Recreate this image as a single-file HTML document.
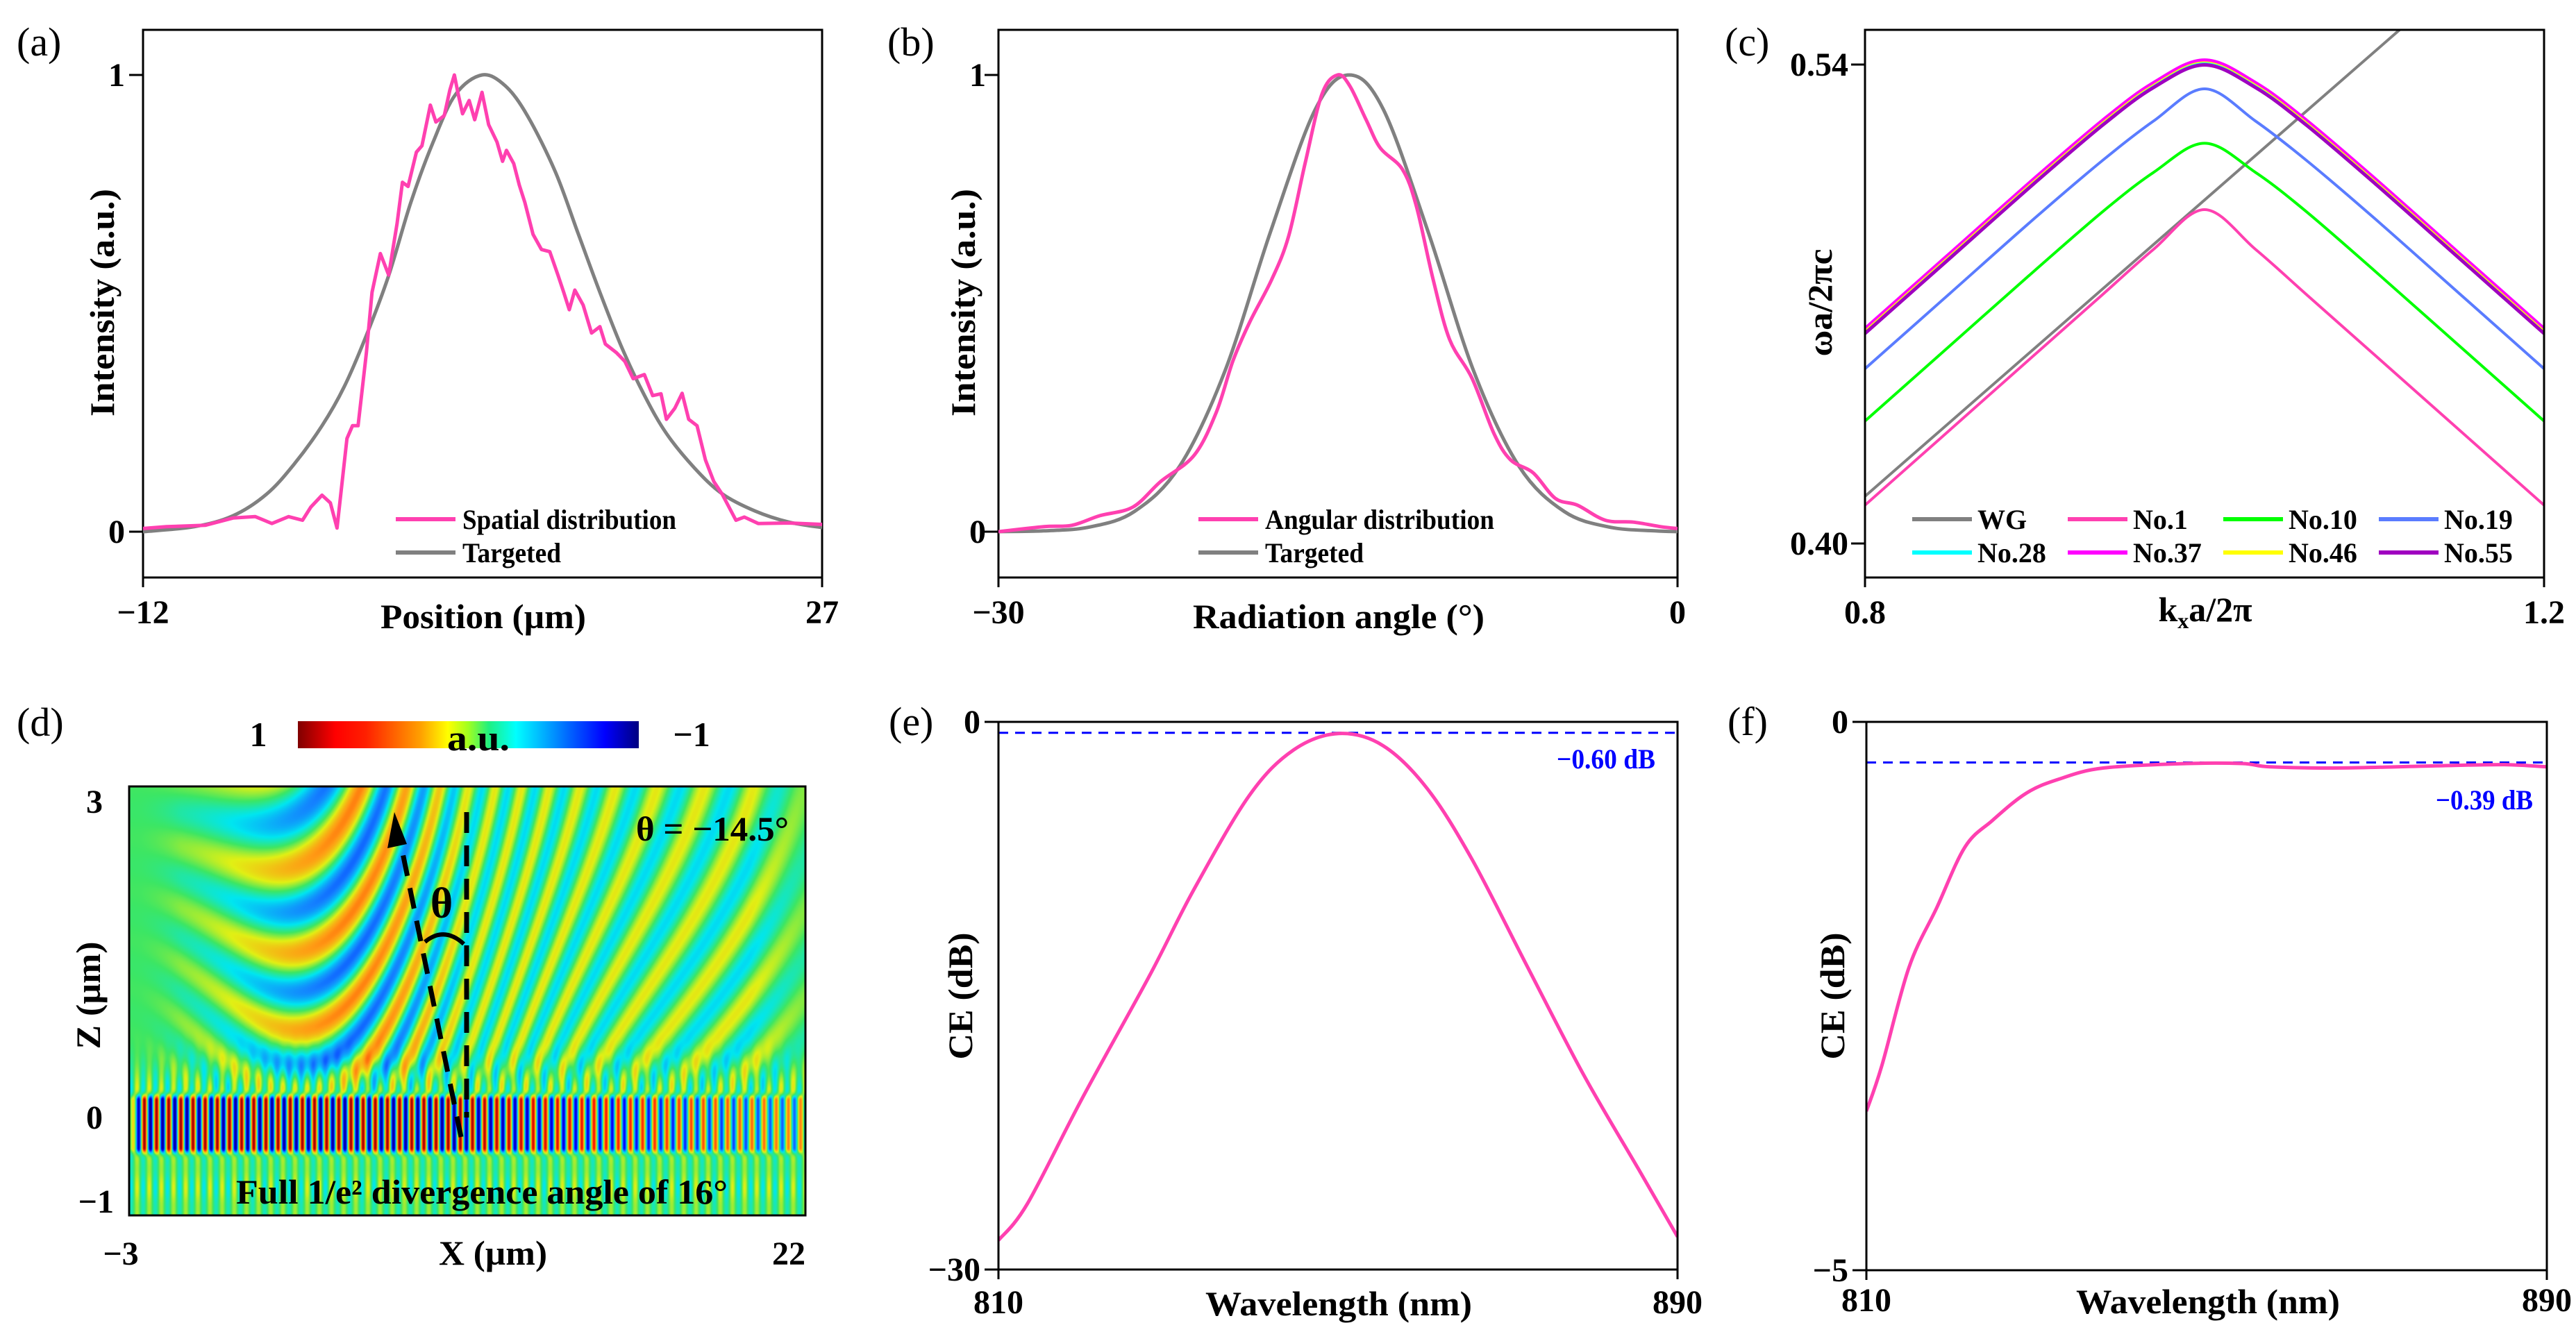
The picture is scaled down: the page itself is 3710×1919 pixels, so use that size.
<!DOCTYPE html>
<html><head><meta charset="utf-8"><style>
html,body{margin:0;padding:0;background:#fff;}
#wrap{position:relative;width:3710px;height:1919px;overflow:hidden;background:#fff;}
#field{position:absolute;left:186px;top:1133px;}
#svg{position:absolute;left:0;top:0;}
text{font-family:"Liberation Serif",serif;}
.b{font-weight:bold;}
</style></head><body>
<div id="wrap">
<canvas id="field" width="974" height="618"></canvas>
<svg id="svg" width="3710" height="1919" xmlns="http://www.w3.org/2000/svg">
<defs>
<linearGradient id="jet" x1="0" x2="1" y1="0" y2="0">
<stop offset="0" stop-color="#800000"/><stop offset="0.11" stop-color="#ff0000"/><stop offset="0.2" stop-color="#ff2000"/>
<stop offset="0.36" stop-color="#ffa000"/><stop offset="0.44" stop-color="#ffff00"/><stop offset="0.5" stop-color="#a0ff20"/>
<stop offset="0.56" stop-color="#20f080"/><stop offset="0.64" stop-color="#00ffff"/><stop offset="0.8" stop-color="#0060ff"/>
<stop offset="0.9" stop-color="#0000ff"/><stop offset="1" stop-color="#000080"/></linearGradient>
<clipPath id="clipa"><rect x="206" y="43" width="978" height="789"/></clipPath>
<clipPath id="clipb"><rect x="1438" y="43" width="978" height="789"/></clipPath>
<clipPath id="clipc"><rect x="2686" y="43" width="978" height="789"/></clipPath>
<clipPath id="clipe"><rect x="1438" y="1040" width="978" height="789"/></clipPath>
<clipPath id="clipf"><rect x="2688" y="1040" width="980" height="790"/></clipPath>
</defs>

<!-- Panel a -->
<g>
<text x="24" y="80" font-size="58">(a)</text>
<rect x="206" y="43" width="978" height="789" fill="none" stroke="#000" stroke-width="3"/>
<g id="ga" clip-path="url(#clipa)"></g>
<line x1="186" y1="108" x2="206" y2="108" stroke="#000" stroke-width="3"/><line x1="186" y1="766" x2="206" y2="766" stroke="#000" stroke-width="3"/>
<line x1="206" y1="832" x2="206" y2="846" stroke="#000" stroke-width="3"/><line x1="1184" y1="832" x2="1184" y2="846" stroke="#000" stroke-width="3"/>
<text class="b" x="180" y="124" font-size="48" text-anchor="end">1</text>
<text class="b" x="180" y="782" font-size="48" text-anchor="end">0</text>
<text class="b" x="206" y="898" font-size="48" text-anchor="middle">−12</text>
<text class="b" x="1184" y="898" font-size="48" text-anchor="middle">27</text>
<text class="b" x="696" y="905" font-size="50" text-anchor="middle" textLength="296" lengthAdjust="spacingAndGlyphs">Position (µm)</text>
<text class="b" transform="translate(164,436) rotate(-90)" font-size="50" text-anchor="middle" textLength="328" lengthAdjust="spacingAndGlyphs">Intensity (a.u.)</text>
<g>
<line x1="570" y1="748" x2="656" y2="748" stroke="#ff40b0" stroke-width="6"/>
<text class="b" x="666" y="762" font-size="40" textLength="308" lengthAdjust="spacingAndGlyphs">Spatial distribution</text>
<line x1="570" y1="796" x2="656" y2="796" stroke="#808080" stroke-width="6"/>
<text class="b" x="666" y="810" font-size="40" textLength="142" lengthAdjust="spacingAndGlyphs">Targeted</text>
</g></g>

<!-- Panel b -->
<g>
<text x="1278" y="80" font-size="58">(b)</text>
<rect x="1438" y="43" width="978" height="789" fill="none" stroke="#000" stroke-width="3"/>
<g id="gb" clip-path="url(#clipb)"></g>
<line x1="1418" y1="108" x2="1438" y2="108" stroke="#000" stroke-width="3"/><line x1="1418" y1="766" x2="1438" y2="766" stroke="#000" stroke-width="3"/>
<line x1="1438" y1="832" x2="1438" y2="846" stroke="#000" stroke-width="3"/><line x1="2416" y1="832" x2="2416" y2="846" stroke="#000" stroke-width="3"/>
<text class="b" x="1420" y="124" font-size="48" text-anchor="end">1</text>
<text class="b" x="1420" y="782" font-size="48" text-anchor="end">0</text>
<text class="b" x="1438" y="898" font-size="48" text-anchor="middle">−30</text>
<text class="b" x="2416" y="898" font-size="48" text-anchor="middle">0</text>
<text class="b" x="1928" y="905" font-size="50" text-anchor="middle" textLength="420" lengthAdjust="spacingAndGlyphs">Radiation angle (°)</text>
<text class="b" transform="translate(1404,436) rotate(-90)" font-size="50" text-anchor="middle" textLength="328" lengthAdjust="spacingAndGlyphs">Intensity (a.u.)</text>
<g>
<line x1="1726" y1="748" x2="1812" y2="748" stroke="#ff40b0" stroke-width="6"/>
<text class="b" x="1822" y="762" font-size="40" textLength="330" lengthAdjust="spacingAndGlyphs">Angular distribution</text>
<line x1="1726" y1="796" x2="1812" y2="796" stroke="#808080" stroke-width="6"/>
<text class="b" x="1822" y="810" font-size="40" textLength="142" lengthAdjust="spacingAndGlyphs">Targeted</text>
</g></g>

<!-- Panel c -->
<g>
<text x="2484" y="80" font-size="58">(c)</text>
<g id="gc" clip-path="url(#clipc)"></g>
<rect x="2686" y="43" width="978" height="789" fill="none" stroke="#000" stroke-width="3"/>
<line x1="2666" y1="93" x2="2686" y2="93" stroke="#000" stroke-width="3"/><line x1="2666" y1="783" x2="2686" y2="783" stroke="#000" stroke-width="3"/>
<line x1="2686" y1="832" x2="2686" y2="846" stroke="#000" stroke-width="3"/><line x1="3664" y1="832" x2="3664" y2="846" stroke="#000" stroke-width="3"/>
<text class="b" x="2662" y="109" font-size="48" text-anchor="end">0.54</text>
<text class="b" x="2662" y="799" font-size="48" text-anchor="end">0.40</text>
<text class="b" x="2686" y="898" font-size="48" text-anchor="middle">0.8</text>
<text class="b" x="3664" y="898" font-size="48" text-anchor="middle">1.2</text>
<text class="b" x="3176" y="895" font-size="50" text-anchor="middle">k<tspan dy="10" font-size="32">x</tspan><tspan dy="-10">a/2π</tspan></text>
<text class="b" transform="translate(2638,436) rotate(-90)" font-size="50" text-anchor="middle" textLength="155" lengthAdjust="spacingAndGlyphs">ωa/2πc</text>
<g id="legc"></g>
</g>

<!-- Panel d -->
<g>
<text x="24" y="1060" font-size="58">(d)</text>
<rect x="429" y="1039" width="491" height="39" fill="url(#jet)"/>
<text class="b" x="372" y="1075" font-size="50" text-anchor="middle">1</text>
<text class="b" x="996" y="1075" font-size="50" text-anchor="middle">−1</text>
<text class="b" x="689" y="1081" font-size="52" text-anchor="middle" textLength="90" lengthAdjust="spacingAndGlyphs">a.u.</text>
<rect x="186" y="1133" width="974" height="618" fill="none" stroke="#000" stroke-width="3"/>
<text class="b" x="148" y="1171" font-size="48" text-anchor="end">3</text>
<text class="b" x="148" y="1626" font-size="48" text-anchor="end">0</text>
<text class="b" x="164" y="1747" font-size="48" text-anchor="end">−1</text>
<text class="b" x="174" y="1822" font-size="48" text-anchor="middle">−3</text>
<text class="b" x="1136" y="1822" font-size="48" text-anchor="middle">22</text>
<text class="b" x="710" y="1822" font-size="50" text-anchor="middle" textLength="156" lengthAdjust="spacingAndGlyphs">X (µm)</text>
<text class="b" transform="translate(144,1434) rotate(-90)" font-size="50" text-anchor="middle" textLength="155" lengthAdjust="spacingAndGlyphs">Z (µm)</text>
<text class="b" x="916" y="1211" font-size="50" textLength="220" lengthAdjust="spacingAndGlyphs">θ = −14.5°</text>
<text class="b" x="340" y="1734" font-size="50" textLength="708" lengthAdjust="spacingAndGlyphs">Full 1/e² divergence angle of 16°</text>
<line x1="672" y1="1170" x2="672" y2="1610" stroke="#000" stroke-width="7" stroke-dasharray="30 18"/>
<line x1="664" y1="1638" x2="575" y2="1205" stroke="#000" stroke-width="7" stroke-dasharray="30 18"/>
<polygon points="568,1170 586,1216 558,1222" fill="#000"/>
<path d="M612 1357 Q640 1334 668 1360" fill="none" stroke="#000" stroke-width="6"/>
<text class="b" x="636" y="1322" font-size="62" text-anchor="middle">θ</text>
</g>

<!-- Panel e -->
<g>
<text x="1280" y="1059" font-size="58">(e)</text>
<g id="ge" clip-path="url(#clipe)"></g>
<rect x="1438" y="1040" width="978" height="789" fill="none" stroke="#000" stroke-width="3"/>
<line x1="1418" y1="1040" x2="1438" y2="1040" stroke="#000" stroke-width="3"/><line x1="1418" y1="1829" x2="1438" y2="1829" stroke="#000" stroke-width="3"/>
<line x1="1438" y1="1829" x2="1438" y2="1843" stroke="#000" stroke-width="3"/><line x1="2416" y1="1829" x2="2416" y2="1843" stroke="#000" stroke-width="3"/>
<text class="b" x="1412" y="1056" font-size="48" text-anchor="end">0</text>
<text class="b" x="1412" y="1845" font-size="48" text-anchor="end">−30</text>
<text class="b" x="1438" y="1892" font-size="48" text-anchor="middle">810</text>
<text class="b" x="2416" y="1892" font-size="48" text-anchor="middle">890</text>
<text class="b" x="1928" y="1895" font-size="50" text-anchor="middle" textLength="384" lengthAdjust="spacingAndGlyphs">Wavelength (nm)</text>
<text class="b" transform="translate(1400,1435) rotate(-90)" font-size="50" text-anchor="middle" textLength="183" lengthAdjust="spacingAndGlyphs">CE (dB)</text>
<text class="b" x="2384" y="1107" font-size="40" fill="#0000ff" text-anchor="end" textLength="142" lengthAdjust="spacingAndGlyphs">−0.60 dB</text>
</g>

<!-- Panel f -->
<g>
<text x="2488" y="1059" font-size="58">(f)</text>
<g id="gf" clip-path="url(#clipf)"></g>
<rect x="2688" y="1040" width="980" height="790" fill="none" stroke="#000" stroke-width="3"/>
<line x1="2668" y1="1040" x2="2688" y2="1040" stroke="#000" stroke-width="3"/><line x1="2668" y1="1830" x2="2688" y2="1830" stroke="#000" stroke-width="3"/>
<line x1="2688" y1="1830" x2="2688" y2="1844" stroke="#000" stroke-width="3"/><line x1="3668" y1="1830" x2="3668" y2="1844" stroke="#000" stroke-width="3"/>
<text class="b" x="2662" y="1056" font-size="48" text-anchor="end">0</text>
<text class="b" x="2662" y="1846" font-size="48" text-anchor="end">−5</text>
<text class="b" x="2688" y="1889" font-size="48" text-anchor="middle">810</text>
<text class="b" x="3668" y="1889" font-size="48" text-anchor="middle">890</text>
<text class="b" x="3180" y="1892" font-size="50" text-anchor="middle" textLength="380" lengthAdjust="spacingAndGlyphs">Wavelength (nm)</text>
<text class="b" transform="translate(2656,1435) rotate(-90)" font-size="50" text-anchor="middle" textLength="183" lengthAdjust="spacingAndGlyphs">CE (dB)</text>
<text class="b" x="3648" y="1166" font-size="40" fill="#0000ff" text-anchor="end" textLength="140" lengthAdjust="spacingAndGlyphs">−0.39 dB</text>
</g>
</svg>
</div>
<script>
// ---- Panel (a) data ----
const aPosX = [-12,-10.66,-8.43,-6.83,-5.55,-4.6,-3.64,-2.84,-2.36,-1.72,-1.24,-0.86,-0.29,0.03,0.35,0.83,1.15,1.63,2.11,2.59,2.9,3.22,3.7,4.02,4.5,4.82,5.3,5.62,5.88,6.1,6.35,6.73,7.05,7.47,7.85,8.33,8.65,8.87,9.29,9.61,9.93,10.4,10.88,11.36,11.84,12.16,12.48,12.8,13.28,13.76,14.24,14.55,15.19,15.67,16.15,16.79,17.27,17.75,18.06,18.54,18.96,19.34,19.82,20.3,20.78,21.26,22.05,22.53,23.33,25.09,27];
const aSpatial = [0.007,0.011,0.014,0.03,0.033,0.018,0.033,0.025,0.054,0.08,0.063,0.008,0.204,0.232,0.232,0.392,0.524,0.609,0.562,0.675,0.765,0.756,0.831,0.845,0.934,0.897,0.911,0.967,1.0,0.958,0.915,0.944,0.902,0.962,0.891,0.853,0.811,0.835,0.806,0.759,0.721,0.651,0.618,0.613,0.561,0.524,0.486,0.529,0.496,0.435,0.449,0.411,0.392,0.373,0.335,0.344,0.298,0.302,0.246,0.27,0.303,0.246,0.232,0.157,0.11,0.082,0.025,0.032,0.018,0.019,0.016];
const aTargX = [-12,-9.06,-6.83,-4.91,-3.32,-1.72,-0.45,0.83,2.11,3.38,4.66,5.94,7.47,8.81,10.09,11.68,12.96,14.23,15.51,16.79,18.06,19.66,21.26,23.17,25.09,27];
const aTarget = [0,0.011,0.035,0.082,0.148,0.232,0.317,0.43,0.561,0.721,0.853,0.957,1,0.976,0.91,0.788,0.656,0.525,0.402,0.299,0.215,0.14,0.083,0.045,0.021,0.009];
// ---- Panel (b) data ----
const bAngX = [-30,-27.99,-26.76,-25.53,-24.06,-22.83,-21.36,-20.38,-19.64,-18.9,-17.92,-17.18,-16.45,-15.71,-15.02,-14.48,-13.75,-13.13,-12.15,-11.54,-10.8,-10.07,-9.08,-8.1,-7.37,-6.38,-5.4,-4.42,-3.19,-1.96,-0.74,0];
const bAngular = [0,0.011,0.014,0.035,0.054,0.11,0.167,0.261,0.374,0.459,0.553,0.647,0.807,0.958,1.0,0.976,0.901,0.84,0.793,0.713,0.553,0.421,0.336,0.214,0.157,0.129,0.073,0.058,0.025,0.021,0.011,0.007];
const bTargX = [-30,-28,-26,-24,-22,-20,-18,-16,-14.5,-13,-11,-9,-7,-5,-3,-1,0];
const bTarget = [0.0002,0.0018,0.01,0.044,0.143,0.351,0.654,0.925,1,0.925,0.654,0.351,0.143,0.044,0.01,0.0018,0.0002];
// ---- Panel (c) data ----
const cK = [0.8,0.85,0.9,0.94,0.97,1.0,1.03,1.06,1.1,1.15,1.2];
const cNo1  = [0.4112,0.4332,0.4552,0.4728,0.4860,0.4976,0.4860,0.4728,0.4552,0.4332,0.4112];
const cNo10 = [0.4358,0.4578,0.4798,0.4970,0.5085,0.5170,0.5085,0.4970,0.4798,0.4578,0.4358];
const cNo19 = [0.4511,0.4731,0.4951,0.5120,0.5235,0.5329,0.5235,0.5120,0.4951,0.4731,0.4511];
const cNo28 = [0.4621,0.4841,0.5061,0.5230,0.5340,0.5406,0.5340,0.5230,0.5061,0.4841,0.4621];
const cNo37 = [0.4628,0.4848,0.5068,0.5237,0.5347,0.5413,0.5347,0.5237,0.5068,0.4848,0.4628];
const cNo46 = [0.4623,0.4843,0.5063,0.5232,0.5342,0.5408,0.5342,0.5232,0.5063,0.4843,0.4623];
const cNo55 = [0.4614,0.4834,0.5054,0.5223,0.5333,0.5399,0.5333,0.5223,0.5054,0.4834,0.4614];
const cWgK = [0.8,1.2];
const cWG = [0.4138,0.5870];
const cLegendLabels = ["WG","No.1","No.10","No.19","No.28","No.37","No.46","No.55"];
// ---- Panel (e) data ----
const eWl = [810,813.4,820,827.8,833,839.6,844.8,850.1,855.3,860.5,865.8,872.3,878.9,885.4,890];
const eCE = [-28.4,-26.4,-20.5,-13.9,-9.2,-4.0,-1.53,-0.64,-1.3,-3.65,-7.54,-13.4,-19.3,-24.5,-28.2];
const eRef = [-0.6];
// ---- Panel (f) data ----
const fWl = [810,811.8,815,818.3,821.6,824.8,828.8,832.7,837.9,847.7,854.2,857.5,866,877.1,885,890];
const fCE = [-3.55,-3.14,-2.24,-1.69,-1.14,-0.9,-0.65,-0.52,-0.42,-0.38,-0.38,-0.41,-0.42,-0.4,-0.39,-0.41];
const fRef = [-0.37];

const NS = "http://www.w3.org/2000/svg";
function scale(d0,d1,p0,p1){return v=>p0+(v-d0)/(d1-d0)*(p1-p0);}
function smoothPath(xs,ys,sx,sy){
  const P=xs.map((x,i)=>[sx(x),sy(ys[i])]);
  let d="M"+P[0][0].toFixed(1)+" "+P[0][1].toFixed(1);
  for(let i=0;i<P.length-1;i++){
    const p0=P[Math.max(0,i-1)],p1=P[i],p2=P[i+1],p3=P[Math.min(P.length-1,i+2)];
    const c1=[p1[0]+(p2[0]-p0[0])/6,p1[1]+(p2[1]-p0[1])/6];
    const c2=[p2[0]-(p3[0]-p1[0])/6,p2[1]-(p3[1]-p1[1])/6];
    d+=" C"+c1[0].toFixed(1)+" "+c1[1].toFixed(1)+" "+c2[0].toFixed(1)+" "+c2[1].toFixed(1)+" "+p2[0].toFixed(1)+" "+p2[1].toFixed(1);
  }
  return d;
}
function addPath(g,d,color,w,name,dash){
  const p=document.createElementNS(NS,"path");
  p.setAttribute("d",d);p.setAttribute("fill","none");p.setAttribute("stroke",color);
  p.setAttribute("stroke-width",w);p.setAttribute("stroke-linejoin","round");
  if(dash)p.setAttribute("stroke-dasharray",dash);
  
  
  g.appendChild(p);return p;
}
const PINK="#ff40b0";
// (a)
{const g=document.getElementById("ga");const sx=scale(-12,27,206,1184),sy=scale(0,1,766,108);
 addPath(g,smoothPath(aTargX,aTarget,sx,sy),"#808080",5,"targeted-line");
 addPath(g,"M"+aPosX.map((x,i)=>sx(x).toFixed(1)+" "+sy(aSpatial[i]).toFixed(1)).join(" L"),PINK,5,"spatial-distribution-line");}
// (b)
{const g=document.getElementById("gb");const sx=scale(-30,0,1438,2416),sy=scale(0,1,766,108);
 addPath(g,smoothPath(bTargX,bTarget,sx,sy),"#808080",5,"targeted-line");
 addPath(g,smoothPath(bAngX,bAngular,sx,sy),PINK,5,"angular-distribution-line");}
// (c)
{const g=document.getElementById("gc");const sx=scale(0.8,1.2,2686,3664),sy=scale(0.40,0.54,783,93);
 addPath(g,"M"+cWgK.map((x,i)=>sx(x)+" "+sy(cWG[i])).join(" L"),"#808080",4,"wg-line");
 addPath(g,smoothPath(cK,cNo1,sx,sy),"#ff40b0",4,"no1-line");
 addPath(g,smoothPath(cK,cNo10,sx,sy),"#00ff00",4,"no10-line");
 addPath(g,smoothPath(cK,cNo19,sx,sy),"#5a7cff",4,"no19-line");
 addPath(g,smoothPath(cK,cNo28,sx,sy),"#00ffff",4,"no28-line");
 addPath(g,smoothPath(cK,cNo37,sx,sy),"#ff00ff",5,"no37-line");
 addPath(g,smoothPath(cK,cNo55,sx,sy),"#a000c0",5,"no55-line");
 addPath(g,smoothPath(cK,cNo46,sx,sy),"#ffff00",1.5,"no46-line");
 const leg=document.getElementById("legc");
 const cols=["#808080","#ff40b0","#00ff00","#5a7cff","#00ffff","#ff00ff","#ffff00","#a000c0"];
 cLegendLabels.forEach((lab,i)=>{
   const x=2754+(i%4)*224,y=748+Math.floor(i/4)*48;
   const l=document.createElementNS(NS,"line");
   l.setAttribute("x1",x);l.setAttribute("x2",x+86);l.setAttribute("y1",y);l.setAttribute("y2",y);
   l.setAttribute("stroke",cols[i]);l.setAttribute("stroke-width",6);
   
   
   leg.appendChild(l);
   const t=document.createElementNS(NS,"text");
   t.setAttribute("x",x+94);t.setAttribute("y",y+14);t.setAttribute("font-size","40");t.setAttribute("class","b");
   t.textContent=lab;
   
   
   leg.appendChild(t);
 });}
// (e)
{const g=document.getElementById("ge");const sx=scale(810,890,1438,2416),sy=scale(0,-30,1040,1829);
 addPath(g,"M1438 "+sy(eRef[0])+" L2416 "+sy(eRef[0]),"#0000ff",3,"reference-dashed-line","14 10");
 addPath(g,smoothPath(eWl,eCE,sx,sy),PINK,5,"ce-line");}
// (f)
{const g=document.getElementById("gf");const sx=scale(810,890,2688,3668),sy=scale(0,-5,1040,1830);
 addPath(g,"M2688 "+sy(fRef[0])+" L3668 "+sy(fRef[0]),"#0000ff",3,"reference-dashed-line","14 10");
 addPath(g,smoothPath(fWl,fCE,sx,sy),PINK,5,"ce-line");}

// ---- field map (d) ----
{const cv=document.getElementById("field");const ctx=cv.getContext("2d");
 const W=974,H=618;const img=ctx.createImageData(W,H);
 const stops=[[-1,[0,0,128]],[-0.75,[0,0,255]],[-0.5,[20,130,255]],[-0.25,[0,230,240]],[0,[60,230,100]],[0.25,[225,240,20]],[0.5,[255,155,20]],[0.75,[255,30,0]],[1,[128,0,0]]];
 function cmap(v){v=Math.max(-1,Math.min(1,v));for(let i=0;i<stops.length-1;i++){if(v<=stops[i+1][0]){const t=(v-stops[i][0])/(stops[i+1][0]-stops[i][0]);const a=stops[i][1],b=stops[i+1][1];return [a[0]+(b[0]-a[0])*t,a[1]+(b[1]-a[1])*t,a[2]+(b[2]-a[2])*t];}}return stops[stops.length-1][1];}
 const TP=2*Math.PI;const WP=17.5;
 for(let j=0;j<H;j++){const y=1133+j;
  for(let i=0;i<W;i++){const x=186+i;let val=0;
   const fr=Math.cos(TP*(x-190)/WP);
   const dyw=Math.abs(y-1619)/34;
   const e=dyw<1?1:Math.exp(-Math.pow((dyw-1)*4,2));
   let Aw=x<650?0.95:Math.max(0.55,0.95-(x-650)/500*0.4);
   if(x<200)Aw*=Math.max(0,(x-186)/14);
   val+=Aw*e*fr;
   let ff=0;
   if(y<1583){ff=0.3*Math.exp(-Math.pow((1583-y)/45,2));}
   else if(y>1655){ff=0.2+0.05*Math.sin(y/9);}
   val+=ff*(1-e)*Math.cos(TP*(x-197)/WP);
   if(y<1590){
    let h=Math.min(1,Math.max(0,(1590-y)/70));h=h*h*(3-2*h);
    const Ab=0.55*Math.exp(-Math.pow((x-510)/200,2));
    let Ar=0;
    if(x>300)Ar=0.28*Math.min(1,(x-300)/300);
    if(x>1080)Ar*=Math.max(0.4,1-(x-1080)/120);
    let A=Math.max(Ab,Ar);
    if(x<260)A*=Math.max(0.2,(x-186)/74);
    const X=x+100,Y=(y-900)*1.3;const r=Math.sqrt(X*X+Y*Y);
    const P=72+45*Math.exp(-Math.pow((x-470)/230,2));
    val+=A*h*Math.cos(TP*r/P);
   }
   const c=cmap(val);const k=(j*W+i)*4;
   img.data[k]=c[0];img.data[k+1]=c[1];img.data[k+2]=c[2];img.data[k+3]=255;
  }}
 ctx.putImageData(img,0,0);}
</script>
</body></html>
